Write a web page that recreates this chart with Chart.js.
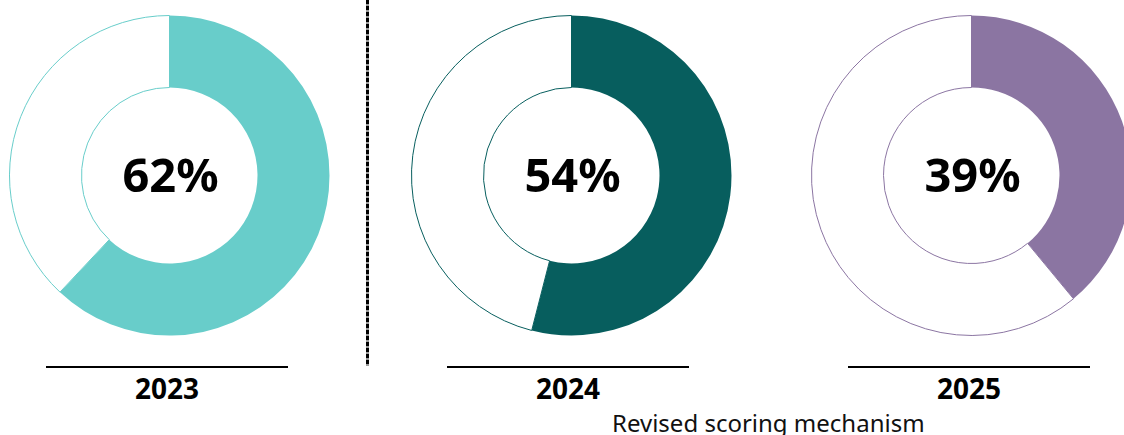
<!DOCTYPE html>
<html>
<head>
<meta charset="utf-8">
<script src="https://cdn.jsdelivr.net/npm/chart.js@4.4.1/dist/chart.umd.min.js"></script>
<style>
  html, body { margin: 0; padding: 0; background: #fff; }
  body { width: 1124px; height: 435px; overflow: hidden; position: relative; font-family: "Noto Sans", "Open Sans", sans-serif; }
  .ring { position: absolute; top: 15px; width: 321px; height: 321px; }
  .rule { position: absolute; top: 366px; width: 242px; height: 2px; background: #000; }
  .year { position: absolute; top: 369px; width: 242px; text-align: center; font-weight: 700; font-size: 28px; color: #000; }
  .divider { position: absolute; left: 366px; top: 0; width: 3px; height: 366px;
    background: repeating-linear-gradient(to bottom, #000 0 4px, #999 4px 6px); }
  .note { position: absolute; left: 612px; top: 406px; font-size: 24px; color: #111; white-space: nowrap; }
</style>
</head>
<body>
<div class="divider"></div>

<div class="ring" style="left:9px"><canvas id="c0"></canvas></div>
<div class="ring" style="left:411px"><canvas id="c1"></canvas></div>
<div class="ring" style="left:811px"><canvas id="c2"></canvas></div>

<div class="rule" style="left:46px"></div>
<div class="rule" style="left:447px"></div>
<div class="rule" style="left:848px"></div>
<div class="year" style="left:46px">2023</div>
<div class="year" style="left:447px">2024</div>
<div class="year" style="left:848px">2025</div>
<div class="note">Revised scoring mechanism</div>

<script>
const years = ["2023", "2024", "2025"];
const scores = [62, 54, 39];
const ringColors = ["#68CDCA", "#075E5E", "#8B75A2"];

// prints the score in the hole of the doughnut
const centerText = {
  id: "centerText",
  afterDraw(chart) {
    const { ctx, chartArea } = chart;
    const x = (chartArea.left + chartArea.right) / 2;
    const y = (chartArea.top + chartArea.bottom) / 2;
    ctx.save();
    ctx.font = "700 47px 'Noto Sans', 'Open Sans', sans-serif";
    ctx.fillStyle = "#000";
    ctx.textAlign = "center";
    ctx.textBaseline = "middle";
    ctx.fillText(chart.data.datasets[0].data[0] + "%", x + 1, y + 3);
    ctx.restore();
  }
};

years.forEach((year, i) => {
  const color = ringColors[i];
  new Chart(document.getElementById("c" + i), {
    type: "doughnut",
    data: {
      labels: [year, "rest"],
      datasets: [{
        data: [scores[i], 100 - scores[i]],
        backgroundColor: [color, "#ffffff"],
        borderColor: [color, color],
        borderWidth: [0, 1]
      }]
    },
    options: {
      responsive: true,
      maintainAspectRatio: true,
      animation: false,
      cutout: "55%",
      layout: { padding: 0 },
      plugins: {
        legend: { display: false },
        tooltip: { enabled: false }
      }
    },
    plugins: [centerText]
  });
});
</script>
</body>
</html>
